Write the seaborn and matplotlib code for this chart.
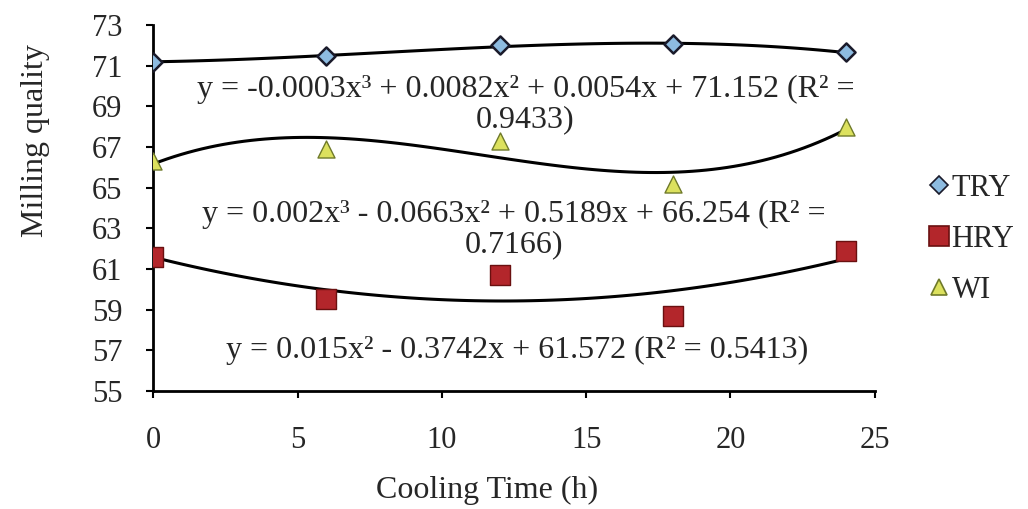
import numpy as np
import pandas as pd
import matplotlib
matplotlib.use("Agg")
import matplotlib.pyplot as plt
import seaborn as sns
from matplotlib.lines import Line2D

# ---- data ----
cooling_time = [0, 6, 12, 18, 24]
try_vals = [71.2, 71.45, 72.0, 72.05, 71.65]
hry_vals = [61.6, 59.5, 60.7, 58.7, 61.9]
wi_vals = [66.3, 66.9, 67.3, 65.2, 68.0]
series_names = ["TRY", "HRY", "WI"]
fit_orders = [3, 2, 3]
eq_try = "y = -0.0003x³ + 0.0082x² + 0.0054x + 71.152 (R² =\n0.9433)"
eq_wi = "y = 0.002x³ - 0.0663x² + 0.5189x + 66.254 (R² =\n0.7166)"
eq_hry = "y = 0.015x² - 0.3742x + 61.572 (R² = 0.5413)"
x_ticks = [0, 5, 10, 15, 20, 25]
y_ticks = [55, 57, 59, 61, 63, 65, 67, 69, 71, 73]

sns.set_style("white")
plt.rcParams["font.family"] = ["Liberation Serif", "DejaVu Serif"]

df = pd.DataFrame({
    "time": cooling_time * 3,
    "value": try_vals + hry_vals + wi_vals,
    "series": sum([[n] * len(cooling_time) for n in series_names], []),
})

fig = plt.figure(figsize=(10.28, 5.09), dpi=100)
ax = fig.add_axes([0.149, 0.232, 0.702, 0.719])

styles = {
    "TRY": dict(marker="D", s=85, color="#8dbbe0", edgecolor="#1a1a2a", linewidth=1.8),
    "HRY": dict(marker="s", s=220, color="#b3262b", edgecolor="#6a1010", linewidth=1.0),
    "WI": dict(marker="^", s=150, color="#dce15e", edgecolor="#6f7a2a", linewidth=1.0),
}

for name, order in zip(series_names, fit_orders):
    sub = df[df["series"] == name]
    sns.regplot(data=sub, x="time", y="value", order=order, ci=None,
                scatter=False, ax=ax, line_kws=dict(color="black", lw=2.2))
for name in series_names:
    sub = df[df["series"] == name]
    sns.scatterplot(data=sub, x="time", y="value", ax=ax, zorder=5, legend=False,
                    **styles[name])

ax.set_xlim(0, 25)
ax.set_ylim(55, 73)
ax.set_xticks(x_ticks)
ax.set_yticks(y_ticks)
ax.set_xticklabels([str(t) for t in x_ticks])
ax.set_yticklabels([str(t) for t in y_ticks])
ax.tick_params(axis="both", labelsize=22, length=5, width=1.5, direction="out", color="black")
ax.tick_params(axis="x", pad=20)
ax.tick_params(axis="y", pad=17)
ax.tick_params(left=True, bottom=True)
for sp in ["top", "right"]:
    ax.spines[sp].set_visible(False)
for sp in ["left", "bottom"]:
    ax.spines[sp].set_color("black")
    ax.spines[sp].set_linewidth(2.0)

ax.set_xlabel("Cooling Time (h)", fontsize=23, labelpad=15)
ax.set_ylabel("Milling quality", fontsize=23, labelpad=30)
ax.xaxis.label.set_x(0.463)
ax.yaxis.label.set_y(0.684)

ax.text(12.9, 69.07, eq_try, fontsize=23, ha="center", va="center", multialignment="center",
        linespacing=1.05)
ax.text(12.5, 62.94, eq_wi, fontsize=23, ha="center", va="center", multialignment="center",
        linespacing=1.05)
ax.text(12.6, 57.0, eq_hry, fontsize=23, ha="center", va="center")

handles = [Line2D([], [], linestyle="none", marker=styles[n]["marker"],
                  markersize={"TRY": 9, "HRY": 14, "WI": 11}[n],
                  markerfacecolor=styles[n]["color"], markeredgecolor=styles[n]["edgecolor"],
                  markeredgewidth=1.2) for n in series_names]
fig.legend(handles, series_names, loc="center left", bbox_to_anchor=(0.89, 0.53),
           frameon=False, fontsize=22, handlelength=0.55, handletextpad=0.15,
           labelspacing=0.72, borderpad=0)

fig.savefig("out.png", dpi=100)
